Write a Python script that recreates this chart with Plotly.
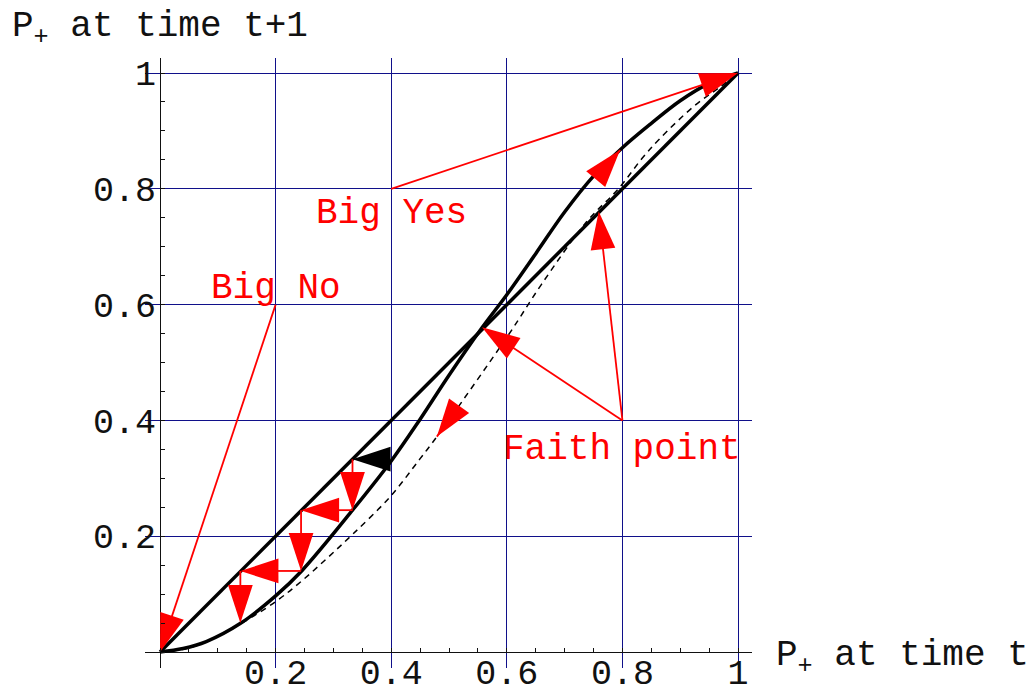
import plotly.graph_objects as go

# tick marks shown on both axes
tick_vals = [0.2, 0.4, 0.6, 0.8, 1]
tick_text = ["0.2", "0.4", "0.6", "0.8", "1"]

# P(t+1) = P(t)
diag_x = [0, 1]
diag_y = [0, 1]

# solid S-shaped map (crosses the diagonal at the faith point)
s_x = [0, 0.04, 0.08, 0.14, 0.2, 0.245, 0.333, 0.4, 0.45, 0.5, 0.557, 0.6, 0.65, 0.7, 0.75, 0.8, 0.85, 0.9, 0.95, 1]
s_y = [0, 0.006, 0.018, 0.05, 0.097, 0.14, 0.245, 0.33, 0.402, 0.478, 0.56, 0.617, 0.688, 0.76, 0.822, 0.871, 0.913, 0.952, 0.982, 1]

# dashed map
d_x = [0, 0.05, 0.1, 0.14, 0.2, 0.242, 0.288, 0.334, 0.398, 0.45, 0.479, 0.603, 0.66, 0.738, 0.793, 0.836, 0.865, 0.923, 0.969, 1]
d_y = [0, 0.007, 0.027, 0.049, 0.087, 0.12, 0.161, 0.204, 0.268, 0.334, 0.372, 0.548, 0.635, 0.743, 0.8, 0.855, 0.887, 0.942, 0.976, 1]

# arrows as (tail x, tail y, head x, head y)
red_arrows = [
    (0.2, 0.6, 0.0, 0.0),          # Big No
    (0.4, 0.8, 1.0, 1.0),          # Big Yes
    (0.8, 0.4, 0.557, 0.561),      # Faith point -> crossing
    (0.8, 0.4, 0.759, 0.761),      # Faith point -> diagonal
    (0.333, 0.333, 0.333, 0.245),  # cobweb steps
    (0.333, 0.245, 0.244, 0.245),
    (0.244, 0.245, 0.244, 0.14),
    (0.244, 0.14, 0.139, 0.14),
    (0.139, 0.14, 0.139, 0.05),
    (0.765, 0.83, 0.796, 0.867),   # along the S curve
    (0.51, 0.415, 0.479, 0.372),   # along the dashed curve
]
black_arrows = [
    (0.398, 0.333, 0.333, 0.333),
]

labels = ["Big No", "Big Yes", "Faith point"]
label_x = [0.2, 0.4, 0.8]
label_y = [0.627, 0.758, 0.35]

FONT = "Liberation Mono"
GRID = "#10108a"
X_RANGE = [-0.026, 1.0242]
Y_RANGE = [-0.0276, 1.0259]

fig = go.Figure()

fig.add_trace(go.Scatter(x=d_x, y=d_y, mode="lines", line=dict(color="black", width=1.5, dash="6px,5px", shape="spline"),
                         hoverinfo="skip"))
fig.add_trace(go.Scatter(x=diag_x, y=diag_y, mode="lines", line=dict(color="black", width=3.5), hoverinfo="skip"))
fig.add_trace(go.Scatter(x=s_x, y=s_y, mode="lines", line=dict(color="black", width=3.5, shape="spline"),
                         hoverinfo="skip"))

for arrows, color in [(red_arrows, "#ff0000"), (black_arrows, "#000000")]:
    for tx, ty, hx, hy in arrows:
        fig.add_trace(go.Scatter(
            x=[tx, hx], y=[ty, hy], mode="lines+markers", opacity=1,
            line=dict(color=color, width=1.8),
            marker=dict(symbol="arrow", size=[0, 40], angleref="previous", color=color, opacity=1,
                        line=dict(width=0)),
            hoverinfo="skip",
        ))

# carrier for the small 0.05 ticks sitting on the zero lines
fig.add_trace(go.Scatter(x=[None], y=[None], xaxis="x2", yaxis="y2", hoverinfo="skip"))

for text, x, y in zip(labels, label_x, label_y):
    fig.add_annotation(x=x, y=y, text=text, showarrow=False, xanchor="center", yanchor="middle",
                       font=dict(family=FONT, size=36, color="red"))

fig.add_annotation(xref="paper", yref="paper", x=-0.222, y=1.048, text="P<sub>+</sub> at time t+1",
                   showarrow=False, xanchor="left", yanchor="middle", font=dict(family=FONT, size=36, color="#111"))
fig.add_annotation(xref="paper", yref="paper", x=1.036, y=0.017, text="P<sub>+</sub> at time t",
                   showarrow=False, xanchor="left", yanchor="middle", font=dict(family=FONT, size=36, color="#111"))

axis_common = dict(showgrid=True, gridcolor=GRID, gridwidth=1, zeroline=True, zerolinecolor="#111",
                   zerolinewidth=1.2, showline=False, ticks="", tickmode="array", automargin=False,
                   tickvals=tick_vals, ticktext=tick_text, tickfont=dict(family=FONT, size=35, color="#111"))
fig.update_xaxes(range=X_RANGE, ticklabelstandoff=-20, **axis_common)
fig.update_yaxes(range=Y_RANGE, ticklabelstandoff=-12, **axis_common)

# page body adds 8px, so the figure is 8px smaller than the window
fig.update_layout(
    template="none",
    width=1027, height=679,
    margin=dict(l=137, r=283, t=50, b=19),
    plot_bgcolor="white", paper_bgcolor="white",
    showlegend=False,
    xaxis2=dict(overlaying="x", anchor="free", position=0.0262, range=X_RANGE, showgrid=False,
                zeroline=False, showticklabels=False, ticks="inside", ticklen=4, tick0=0, dtick=0.05,
                tickcolor="#111", automargin=False),
    yaxis2=dict(overlaying="y", anchor="free", position=0.0247, range=Y_RANGE, showgrid=False,
                zeroline=False, showticklabels=False, ticks="inside", ticklen=4, tick0=0, dtick=0.05,
                tickcolor="#111", automargin=False),
)

fig.write_html("out.html")
